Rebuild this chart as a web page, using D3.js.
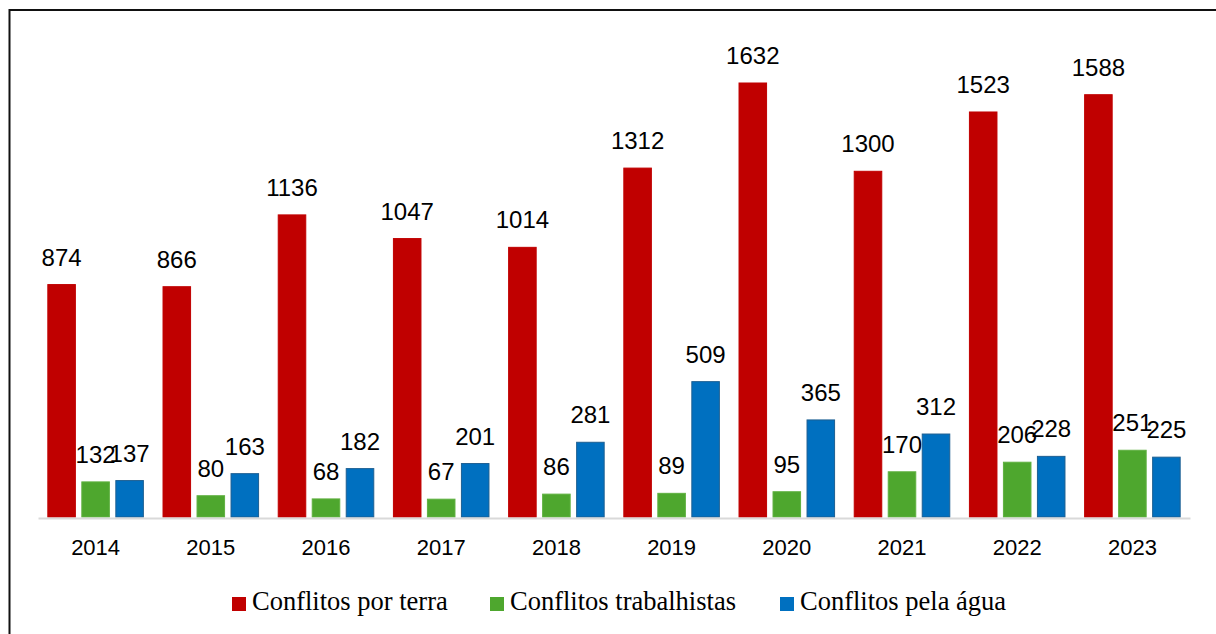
<!DOCTYPE html>
<html>
<head>
<meta charset="utf-8">
<script src="https://cdn.jsdelivr.net/npm/d3@7"></script>
<style>
  html, body { margin: 0; padding: 0; background: #ffffff; }
  svg { display: block; }
</style>
</head>
<body>
<svg id="chart" width="1216" height="634"></svg>
<script>
const years = ["2014","2015","2016","2017","2018","2019","2020","2021","2022","2023"];
const seriesNames = ["Conflitos por terra", "Conflitos trabalhistas", "Conflitos pela água"];
const terra = [874, 866, 1136, 1047, 1014, 1312, 1632, 1300, 1523, 1588];
const trabalhistas = [132, 80, 68, 67, 86, 89, 95, 170, 206, 251];
const agua = [137, 163, 182, 201, 281, 509, 365, 312, 228, 225];
const colors = ["#C00000", "#4EA72E", "#0070C0"];
const strokes = ["#C00000", "#5fb040", "#1d5f92"];

const seriesValues = [terra, trabalhistas, agua];

const svg = d3.select("#chart");

// frame (left and top edges visible)
svg.append("rect")
  .attr("x", 9.5).attr("y", 10)
  .attr("width", 1400).attr("height", 1000)
  .attr("fill", "none").attr("stroke", "#111").attr("stroke-width", 2);

const x0 = d3.scaleBand().domain(years).range([38, 1190]).paddingInner(0).paddingOuter(0);
const x1 = d3.scaleBand().domain(seriesNames).range([0, x0.bandwidth()])
  .paddingInner(0.19).paddingOuter(0.289);
const y = d3.scaleLinear().domain([0, 1632]).range([517, 83]);

const groups = svg.append("g").selectAll("g")
  .data(years)
  .join("g")
  .attr("transform", d => `translate(${x0(d)},0)`);

groups.each(function(yr, i) {
  const g = d3.select(this);
  seriesNames.forEach((s, k) => {
    const v = seriesValues[k][i];
    g.append("rect")
      .attr("x", x1(s))
      .attr("y", y(v))
      .attr("width", x1.bandwidth())
      .attr("height", y(0) - y(v))
      .attr("fill", colors[k])
      .attr("stroke", strokes[k])
      .attr("stroke-width", 1);
  });
  seriesNames.forEach((s, k) => {
    const v = seriesValues[k][i];
    g.append("text")
      .attr("x", x1(s) + x1.bandwidth() / 2)
      .attr("y", y(v) - 19)
      .attr("text-anchor", "middle")
      .attr("font-family", "'Liberation Sans', Arial, sans-serif")
      .attr("font-size", 24)
      .attr("fill", "#000")
      .text(v);
  });
});

// baseline axis
const xAxis = d3.axisBottom(x0).tickSize(0).tickPadding(0);
const axisG = svg.append("g").attr("transform", "translate(0,518)").call(xAxis);
axisG.select(".domain").attr("stroke", "#d9d9d9").attr("stroke-width", 2);
axisG.selectAll("text")
  .attr("font-family", "'Liberation Sans', Arial, sans-serif")
  .attr("font-size", 22)
  .attr("fill", "#000")
  .attr("dy", null)
  .attr("y", 37);

// legend
const legendX = [232, 490, 780];
const legend = svg.append("g");
seriesNames.forEach((s, k) => {
  legend.append("rect")
    .attr("x", legendX[k]).attr("y", 597)
    .attr("width", 14).attr("height", 14)
    .attr("fill", colors[k]);
  legend.append("text")
    .attr("x", legendX[k] + 20).attr("y", 610)
    .attr("font-family", "'Liberation Serif', 'Times New Roman', serif")
    .attr("font-size", 26.5)
    .attr("fill", "#000")
    .text(s);
});
</script>
</body>
</html>
